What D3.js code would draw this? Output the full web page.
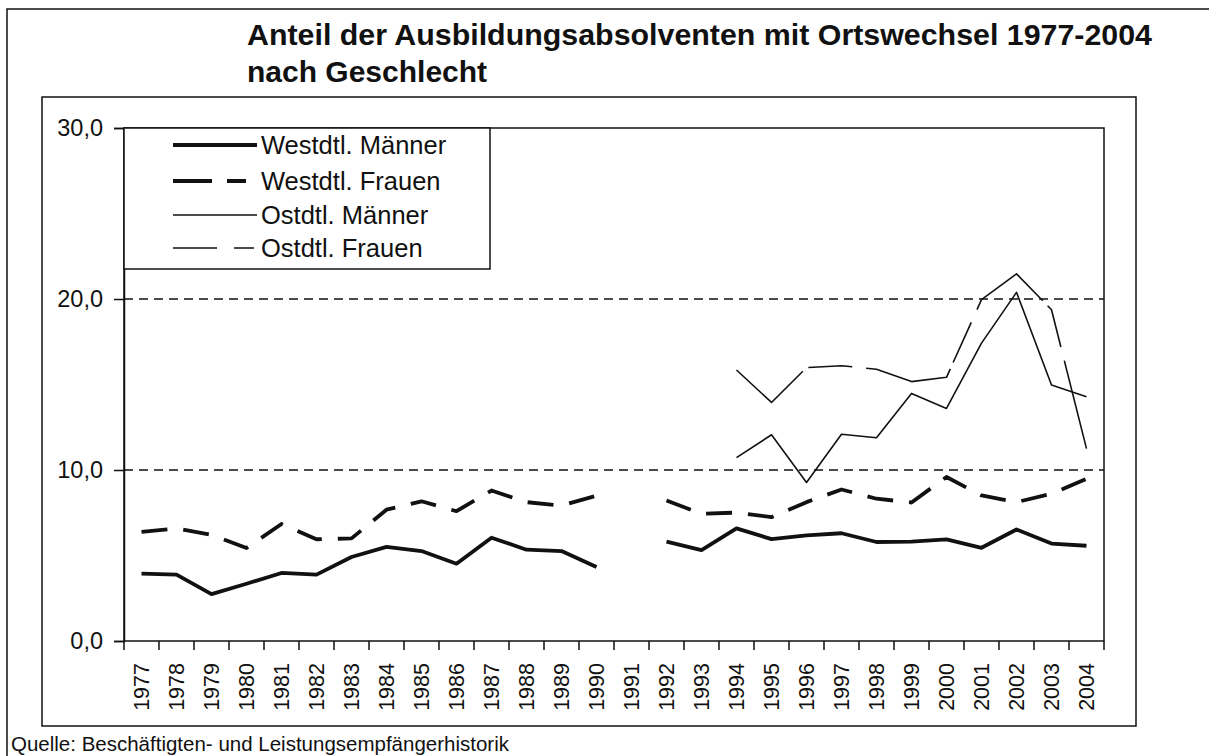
<!DOCTYPE html>
<html>
<head>
<meta charset="utf-8">
<script src="https://cdn.jsdelivr.net/npm/d3@7"></script>
<style>
  html, body { margin: 0; padding: 0; background: #fff; }
  svg { display: block; font-family: "Liberation Sans", Arial, sans-serif; }
</style>
</head>
<body>
<svg id="chart" width="1209" height="756"></svg>
<script>
// ---- data ----
const years = ["1977","1978","1979","1980","1981","1982","1983","1984","1985","1986","1987","1988","1989","1990","1991","1992","1993","1994","1995","1996","1997","1998","1999","2000","2001","2002","2003","2004"];
const westMaenner = [3.94,3.88,2.74,3.35,3.98,3.88,4.91,5.50,5.26,4.52,6.04,5.34,5.26,4.33,null,5.81,5.32,6.59,5.96,6.18,6.30,5.79,5.81,5.94,5.45,6.52,5.70,5.57];
const westFrauen  = [6.38,6.58,6.21,5.44,6.84,5.95,6.00,7.68,8.17,7.59,8.80,8.12,7.92,8.50,null,8.22,7.44,7.51,7.24,8.12,8.86,8.32,8.10,9.59,8.51,8.12,8.61,9.49];
const ostMaenner  = [null,null,null,null,null,null,null,null,null,null,null,null,null,null,null,null,null,10.72,12.06,9.27,12.09,11.89,14.48,13.60,17.42,20.39,14.97,14.29];
const ostFrauen   = [null,null,null,null,null,null,null,null,null,null,null,null,null,null,null,null,null,15.85,13.95,15.99,16.10,15.89,15.17,15.42,19.96,21.47,19.37,11.25];
const yTicks = [0, 10, 20, 30];
const yTickLabels = ["0,0", "10,0", "20,0", "30,0"];
const gridValues = [10, 20];
const seriesNames = ["Westdtl. Männer", "Westdtl. Frauen", "Ostdtl. Männer", "Ostdtl. Frauen"];
const titleLines = ["Anteil der Ausbildungsabsolventen mit Ortswechsel 1977-2004", "nach Geschlecht"];
const sourceText = "Quelle: Beschäftigten- und Leistungsempfängerhistorik";

// ---- layout ----
const svg = d3.select("#chart");
const ink = "#111";
const plot = { left: 124, right: 1104, top: 128, bottom: 641 };

const x = d3.scaleBand().domain(years).range([plot.left, plot.right]).paddingInner(0).paddingOuter(0);
const y = d3.scaleLinear().domain([0, 30]).range([plot.bottom, plot.top]);

// outer page border (only left and top visible)
svg.append("rect").attr("x", 7).attr("y", 9).attr("width", 1240).attr("height", 800)
  .attr("fill", "none").attr("stroke", ink).attr("stroke-width", 1.5);

// chart frame
svg.append("rect").attr("x", 42).attr("y", 97).attr("width", 1094).attr("height", 629)
  .attr("fill", "none").attr("stroke", ink).attr("stroke-width", 1.5);

// title
svg.append("text").attr("x", 247).attr("y", 45)
  .attr("font-size", 30).attr("font-weight", "bold").attr("fill", ink)
  .attr("textLength", 905).attr("lengthAdjust", "spacingAndGlyphs")
  .text(titleLines[0]);
svg.append("text").attr("x", 247).attr("y", 82)
  .attr("font-size", 30).attr("font-weight", "bold").attr("fill", ink)
  .text(titleLines[1]);

// gridlines
svg.append("g").selectAll("line").data(gridValues).join("line")
  .attr("x1", plot.left).attr("x2", plot.right)
  .attr("y1", d => y(d)).attr("y2", d => y(d))
  .attr("stroke", ink).attr("stroke-width", 1.3).attr("stroke-dasharray", "9,6");

// plot border
svg.append("rect").attr("x", plot.left).attr("y", plot.top)
  .attr("width", plot.right - plot.left).attr("height", plot.bottom - plot.top)
  .attr("fill", "none").attr("stroke", ink).attr("stroke-width", 1.5);

// y axis
const yAxis = d3.axisLeft(y).tickValues(yTicks)
  .tickFormat(d => yTickLabels[yTicks.indexOf(d)])
  .tickSize(10).tickPadding(11);
const gy = svg.append("g").attr("transform", `translate(${plot.left},0)`).call(yAxis);
gy.select(".domain").attr("stroke", ink).attr("stroke-width", 1.5);
gy.selectAll(".tick line").attr("stroke", ink).attr("stroke-width", 1.5);
gy.selectAll(".tick text").attr("font-size", 23.5).attr("fill", ink)
  .attr("font-family", "Liberation Sans, Arial, sans-serif");

// x axis: ticks at band boundaries
const boundaries = years.map(d => x(d)).concat([plot.right]);
svg.append("g").selectAll("line").data(boundaries).join("line")
  .attr("x1", d => d).attr("x2", d => d)
  .attr("y1", plot.bottom).attr("y2", plot.bottom + 9)
  .attr("stroke", ink).attr("stroke-width", 1.5);
svg.append("g").selectAll("text").data(years).join("text")
  .attr("transform", d => `translate(${x(d) + x.bandwidth() / 2 + 7.5},${plot.bottom + 22}) rotate(-90)`)
  .attr("text-anchor", "end")
  .attr("font-size", 21.5).attr("fill", ink)
  .text(d => d);

// series lines
const line = d3.line()
  .defined(d => d.v !== null)
  .x(d => x(d.year) + x.bandwidth() / 2)
  .y(d => y(d.v));
const toPts = arr => arr.map((v, i) => ({ year: years[i], v }));

const series = [
  { data: westMaenner, width: 3.8, dash: null },
  { data: westFrauen, width: 3.8, dash: "26,16" },
  { data: ostMaenner, width: 1.6, dash: null },
  { data: ostFrauen, width: 1.6, dash: "92,7,44,14" }
];
svg.append("g").selectAll("path").data(series).join("path")
  .attr("d", s => line(toPts(s.data)))
  .attr("fill", "none").attr("stroke", ink)
  .attr("stroke-width", s => s.width)
  .attr("stroke-linejoin", "round")
  .attr("stroke-dasharray", s => s.dash);

// legend
const legend = svg.append("g");
legend.append("rect").attr("x", plot.left).attr("y", plot.top).attr("width", 366).attr("height", 141)
  .attr("fill", "#fff").attr("stroke", ink).attr("stroke-width", 1.5);
const legendRows = [
  { y: 145, width: 4, dash: null },
  { y: 181, width: 4, dash: "39,15,19,100" },
  { y: 215, width: 1.5, dash: null },
  { y: 248, width: 1.5, dash: "44,17,20,100" }
];
legendRows.forEach((r, i) => {
  legend.append("line").attr("x1", 173).attr("x2", 257).attr("y1", r.y).attr("y2", r.y)
    .attr("stroke", ink).attr("stroke-width", r.width).attr("stroke-dasharray", r.dash);
  legend.append("text").attr("x", 261).attr("y", r.y + 9)
    .attr("font-size", 25.5).attr("fill", ink).text(seriesNames[i]);
});

// source
svg.append("text").attr("x", 11).attr("y", 751)
  .attr("font-size", 20.5).attr("fill", ink).text(sourceText);
</script>
</body>
</html>
